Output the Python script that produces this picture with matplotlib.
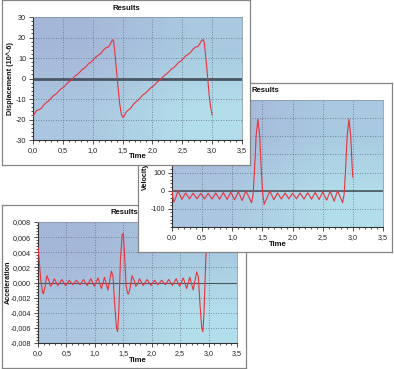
import matplotlib
matplotlib.use("Agg")
import matplotlib.pyplot as plt
import numpy as np

W, H = 394, 369

# displacement (10^-6) against time
disp_t = [0.00, 0.03, 0.06, 0.10, 0.14, 0.18, 0.22, 0.26, 0.30, 0.34, 0.38, 0.42,
          0.46, 0.50, 0.54, 0.58, 0.62, 0.66, 0.70, 0.74, 0.78, 0.82, 0.86, 0.90,
          0.94, 0.98, 1.02, 1.06, 1.10, 1.14, 1.18, 1.22, 1.26, 1.29, 1.32, 1.335,
          1.35, 1.37, 1.41, 1.45, 1.48, 1.505, 1.53, 1.56, 1.60, 1.64, 1.68, 1.72,
          1.76, 1.80, 1.84, 1.88, 1.92, 1.96, 2.00, 2.04, 2.08, 2.12, 2.16, 2.20,
          2.24, 2.28, 2.32, 2.36, 2.40, 2.44, 2.48, 2.52, 2.56, 2.60, 2.64, 2.68,
          2.72, 2.76, 2.79, 2.82, 2.85, 2.865, 2.885, 2.92, 2.95, 2.975, 3.00]
disp_v = [-18.6, -17.0, -15.6, -15.2, -14.6, -12.9, -11.8, -11.0, -9.7, -8.4, -7.7, -6.6,
          -5.2, -4.5, -3.5, -2.1, -1.3, -0.2, 1.1, 1.9, 3.0, 4.3, 5.0, 6.2,
          7.5, 8.2, 9.4, 10.7, 11.4, 12.4, 13.9, 15.0, 15.3, 16.5, 18.3, 19.0,
          18.0, 13.0, 0.0, -12.0, -17.5, -19.0, -18.2, -16.4, -15.3, -14.4, -12.6, -11.5,
          -10.6, -9.3, -8.0, -7.2, -6.1, -4.8, -4.0, -3.0, -1.7, -0.9, 0.2, 1.5,
          2.3, 3.4, 4.7, 5.4, 6.6, 7.9, 8.6, 9.8, 11.1, 11.8, 12.8, 14.3,
          15.3, 15.6, 16.8, 18.4, 19.0, 18.0, 13.0, 2.0, -8.0, -14.0, -17.8]

# velocity against time
vel_t = [0.000, 0.015, 0.03, 0.06, 0.10, 0.165, 0.225, 0.29, 0.35, 0.415, 0.475, 0.54,
         0.60, 0.665, 0.725, 0.79, 0.85, 0.915, 0.975, 1.04, 1.10, 1.165, 1.225, 1.32,
         1.345, 1.37, 1.395, 1.425, 1.455, 1.48, 1.505, 1.53, 1.58, 1.625, 1.69, 1.75,
         1.815, 1.875, 1.94, 2.00, 2.065, 2.125, 2.19, 2.25, 2.315, 2.375, 2.44, 2.50,
         2.565, 2.625, 2.69, 2.745, 2.83, 2.855, 2.88, 2.905, 2.935, 2.965, 2.99, 3.00]
vel_v = [0, -40, -62, -40, 0, -48, -12, -45, -13, -45, -14, -45,
         -14, -46, -12, -47, -10, -48, -8, -50, -5, -55, 0, -66,
         -20, 120, 300, 395, 300, 120, -20, -75, -35, -2, -50, -12,
         -46, -13, -45, -14, -45, -13, -46, -11, -47, -9, -49, -6,
         -52, -3, -58, 0, -66, -20, 120, 300, 395, 300, 120, 75]

# acceleration against time
acc_t = [0.000, 0.02, 0.05, 0.08, 0.095, 0.12, 0.155, 0.19, 0.22, 0.25, 0.285, 0.35,
         0.42, 0.485, 0.55, 0.61, 0.675, 0.74, 0.80, 0.865, 0.93, 0.99, 1.055, 1.115,
         1.17, 1.23, 1.29, 1.32, 1.35, 1.38, 1.40, 1.42, 1.45, 1.48, 1.50, 1.52,
         1.55, 1.58, 1.595, 1.62, 1.655, 1.69, 1.72, 1.75, 1.785, 1.85, 1.92, 1.985,
         2.05, 2.11, 2.175, 2.24, 2.30, 2.365, 2.43, 2.49, 2.555, 2.615, 2.67, 2.73,
         2.79, 2.82, 2.85, 2.88, 2.90, 2.92, 2.95, 2.98, 3.00]
acc_v = [0.0047, 0.0030, 0.0002, -0.0013, -0.0015, -0.0007, 0.0009, 0.0003, -0.0005, -0.0002, 0.0005, -0.0004,
         0.0004, -0.0004, 0.0003, -0.0003, 0.0003, -0.0003, 0.0004, -0.0004, 0.0005, -0.0005, 0.0006, -0.0008,
         0.0007, -0.0010, 0.0015, 0.0008, -0.0030, -0.0060, -0.0065, -0.0040, 0.0030, 0.0063, 0.0065, 0.0040,
         -0.0005, -0.0015, -0.0015, -0.0007, 0.0009, 0.0003, -0.0005, -0.0002, 0.0005, -0.0004, 0.0004, -0.0004,
         0.0003, -0.0003, 0.0003, -0.0003, 0.0004, -0.0004, 0.0005, -0.0005, 0.0006, -0.0008, 0.0007, -0.0010,
         0.0014, 0.0008, -0.0030, -0.0060, -0.0065, -0.0040, 0.0030, 0.0063, 0.0065]

x_ticks = [0.0, 0.5, 1.0, 1.5, 2.0, 2.5, 3.0, 3.5]
x_tick_labels = ["0,0", "0,5", "1,0", "1,5", "2,0", "2,5", "3,0", "3,5"]
disp_ticks = [-30, -20, -10, 0, 10, 20, 30]
disp_tick_labels = ["-30", "-20", "-10", "0", "10", "20", "30"]
# the upper velocity labels sit under the displacement window, so only these show
vel_ticks = [-100, 0, 100, 200, 300, 400]
vel_tick_labels = ["-100", "0", "100", "", "", ""]
acc_ticks = [-0.008, -0.006, -0.004, -0.002, 0.0, 0.002, 0.004, 0.006, 0.008]
acc_tick_labels = ["-0,008", "-0,006", "-0,004", "-0,002", "0,000",
                   "0,002", "0,004", "0,006", "0,008"]

plt.rcParams['font.family'] = ['Liberation Sans', 'DejaVu Sans']

fig = plt.figure(figsize=(W / 100, H / 100), dpi=100)
fig.patch.set_facecolor("white")

# background colour of the plot areas (top-left to bottom-right)
grad = np.array([[[0.65, 0.72, 0.85], [0.66, 0.79, 0.88]],
                 [[0.67, 0.78, 0.88], [0.70, 0.87, 0.92]]])


def frac(x0, y0, x1, y1):
    return [x0 / W, 1 - y1 / H, (x1 - x0) / W, (y1 - y0) / H]


def window(win_box, plot_box, t, y, ylim, yticks, yticklabels, ylabel, ylabel_xy,
           minor_y, zero_lw):
    win = fig.add_axes(frac(*win_box))
    win.set_facecolor("white")
    win.set_xticks([])
    win.set_yticks([])
    for s in win.spines.values():
        s.set_color("#858585")
        s.set_linewidth(0.9)

    cx = (win_box[0] + win_box[2]) / 2
    win.text(cx / W, 1 - (win_box[1] + 8) / H, "Results", transform=fig.transFigure,
             ha="center", va="center", fontsize=5.6, fontweight="bold", color="#111111")
    pcx = (plot_box[0] + plot_box[2]) / 2
    win.text(pcx / W, 1 - (plot_box[3] + 17) / H, "Time", transform=fig.transFigure,
             ha="center", va="center", fontsize=5.6, fontweight="bold", color="#111111")
    win.text(ylabel_xy[0] / W, 1 - ylabel_xy[1] / H, ylabel, transform=fig.transFigure,
             rotation=90, ha="center", va="center", fontsize=5.2, fontweight="bold",
             color="#111111")

    ax = fig.add_axes(frac(*plot_box))
    ax.imshow(grad, extent=[0, 1, 0, 1], transform=ax.transAxes, aspect="auto",
              interpolation="bilinear", zorder=0)
    ax.axhline(0, color="#4a5661", lw=zero_lw, zorder=2)
    ax.plot(t, y, color="#e8343c", lw=0.8, zorder=3)
    ax.set_xlim(0, 3.5)
    ax.set_ylim(*ylim)
    ax.set_xticks(x_ticks)
    ax.set_xticklabels(x_tick_labels)
    ax.set_yticks(yticks)
    ax.set_yticklabels(yticklabels)
    ax.set_xticks(np.arange(0, 3.51, 0.1), minor=True)
    ax.set_yticks(minor_y, minor=True)
    ax.grid(True, which="major", color="#5f6f82", lw=0.6, linestyle=(0, (1, 2)), zorder=1)
    ax.tick_params(which="both", labelsize=5.2, labelcolor="#222222", color="#333333",
                   direction="out", pad=2, width=0.6)
    ax.tick_params(which="major", length=3)
    ax.tick_params(which="minor", length=1.5)
    for side in ["left", "bottom"]:
        ax.spines[side].set_color("#333333")
        ax.spines[side].set_linewidth(0.8)
    for side in ["top", "right"]:
        ax.spines[side].set_color("#8c9aa8")
        ax.spines[side].set_linewidth(0.6)
    return ax


# drawn bottom to top: acceleration, velocity, displacement
window((2, 205, 246, 368), (38, 222, 237, 343), acc_t, acc_v, (-0.008, 0.008),
       acc_ticks, acc_tick_labels, "Acceleration", (8, 282),
       np.arange(-0.008, 0.00801, 0.0004), 0.8)
window((138, 83, 392, 252), (172, 100, 383, 227), vel_t, vel_v, (-200, 500),
       vel_ticks, vel_tick_labels, "Velocity", (145, 176),
       np.arange(-200, 501, 20), 1.2)
window((2, 0, 250, 165), (33, 17, 242, 140), disp_t, disp_v, (-30, 30),
       disp_ticks, disp_tick_labels, "Displacement (10^-6)", (10, 78.5),
       np.arange(-30, 31, 2), 2.0)

fig.savefig("out.png", dpi=100, facecolor="white")
